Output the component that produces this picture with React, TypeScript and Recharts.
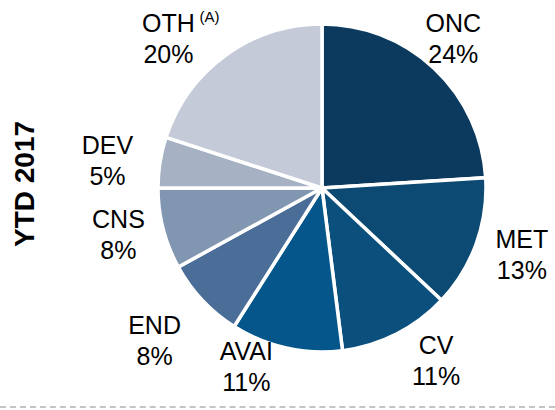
import React from 'react';
import { PieChart, Pie, Cell } from 'recharts';

// therapeutic areas, YTD 2017 share (%)
const areas = ['ONC', 'MET', 'CV', 'AVAI', 'END', 'CNS', 'DEV', 'OTH'];
const shares = [24, 13, 11, 11, 8, 8, 5, 20];
const notes = ['', '', '', '', '', '', '', '(A)'];
const colors = ['#0b3a5e', '#0c4a73', '#0b4f7d', '#05568b', '#4a6e98', '#8196b0', '#a6b2c4', '#c4cad7'];

// small hand nudges so the labels sit where the original has them
const labelNudge: [number, number][] = [
  [-9, 0], [7, -3], [21, -10], [-31, -22], [-18, 12], [-5, -4], [-12, 5], [-33, 16],
];

const RADIAN = Math.PI / 180;
const FONT = '"Liberation Sans", Arial, sans-serif';

const data = areas.map((name, i) => ({ name, value: shares[i] }));

const renderLabel = (props: any) => {
  const { cx, cy, midAngle, outerRadius, index } = props;
  const r = outerRadius + 41;
  const x = cx + r * Math.cos(-midAngle * RADIAN) + labelNudge[index][0];
  const y = cy + r * Math.sin(-midAngle * RADIAN) + labelNudge[index][1];
  return (
    <g fontFamily={FONT} fill="#000">
      <text x={x} y={y - 6.5} textAnchor="middle" fontSize={25}>{areas[index]}</text>
      <text x={x} y={y + 24.5} textAnchor="middle" fontSize={25}>{shares[index]}%</text>
      {notes[index] && (
        <text x={x + 31} y={y - 16} textAnchor="start" fontSize={15}>{notes[index]}</text>
      )}
    </g>
  );
};

export default function App() {
  return (
    <div style={{ position: 'absolute', left: 0, top: 0, width: 555, height: 410, background: '#fff' }}>
      <PieChart width={555} height={410} margin={{ top: 0, right: 0, bottom: 0, left: 0 }}>
        <text
          x={24}
          y={184}
          transform="rotate(-90 24 184)"
          textAnchor="middle"
          dominantBaseline="central"
          fontFamily={FONT}
          fontWeight="bold"
          fontSize={28}
          fill="#000"
        >
          YTD 2017
        </text>
        <Pie
          data={data}
          dataKey="value"
          nameKey="name"
          cx={322}
          cy={188}
          outerRadius={164}
          startAngle={90}
          endAngle={-270}
          stroke="#fff"
          strokeWidth={3.5}
          label={renderLabel}
          labelLine={false}
          isAnimationActive={false}
        >
          {data.map((d, i) => (
            <Cell key={d.name} fill={colors[i]} />
          ))}
        </Pie>
      </PieChart>
      <div
        style={{
          position: 'absolute',
          left: 0,
          top: 406,
          width: 555,
          borderTop: '2px dashed #c4c4c4',
        }}
      />
    </div>
  );
}
